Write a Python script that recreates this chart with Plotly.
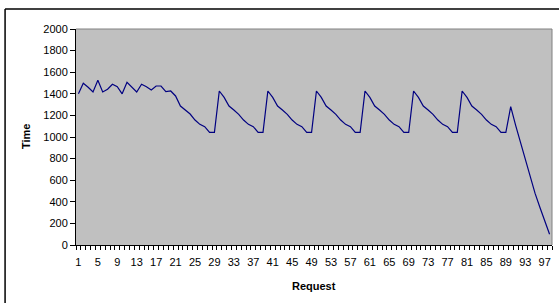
import plotly.graph_objects as go

requests = list(range(1, 99))

warmup = [1400, 1497, 1460, 1417, 1525, 1417, 1442, 1488, 1466, 1400,
          1506, 1460, 1417, 1488, 1466, 1435, 1472, 1472, 1420, 1426,
          1380, 1287, 1250, 1213, 1157, 1117, 1096, 1043, 1043]
cycle = [1426, 1367, 1287, 1250, 1210, 1157, 1117, 1096, 1043, 1043]
tail = [1281, 1110, 950, 790, 630, 480, 350, 220, 100]
times = warmup + cycle * 6 + tail

x_tick_vals = list(range(1, 99, 4))
x_tick_text = [str(v) for v in x_tick_vals]
y_tick_vals = list(range(0, 2001, 200))

FONT = "Arial, Liberation Sans, sans-serif"

fig = go.Figure()
fig.add_trace(go.Scatter(
    x=requests, y=times, mode="lines",
    line=dict(color="#000080", width=1.2),
    hoverinfo="skip", showlegend=False,
))

fig.update_layout(
    width=559, height=303,
    margin=dict(l=76, r=7, t=29, b=58),
    paper_bgcolor="white",
    plot_bgcolor="#C0C0C0",
    font=dict(family=FONT, size=11, color="black"),
    xaxis=dict(
        range=[0.5, 98.5], tickmode="array", tickvals=x_tick_vals,
        ticktext=x_tick_text, ticks="", showgrid=False, zeroline=False,
        showline=True, linecolor="black", linewidth=1,
        tickfont=dict(size=11, family=FONT), ticklabelstandoff=7,
        minor=dict(tickmode="linear", tick0=0.5, dtick=1, ticks="outside",
                   ticklen=4, tickcolor="black", tickwidth=1, showgrid=False),
    ),
    yaxis=dict(
        range=[0, 2000], tickmode="array", tickvals=y_tick_vals,
        ticks="outside", ticklen=5, tickcolor="black", showgrid=False,
        zeroline=False, showline=True, linecolor="black", linewidth=1,
        tickfont=dict(size=11, family=FONT),
    ),
    shapes=[
        # plot-area border (top and right)
        dict(type="line", xref="paper", yref="paper", x0=0, x1=1, y0=1, y1=1,
             line=dict(color="#808080", width=1)),
        dict(type="line", xref="paper", yref="paper", x0=1, x1=1, y0=0, y1=1,
             line=dict(color="#808080", width=1)),
        # outer chart frame (left and top)
        dict(type="line", xref="paper", yref="paper", x0=-0.149, x1=-0.149,
             y0=-0.3, y1=1.0926, line=dict(color="black", width=1.5)),
        dict(type="line", xref="paper", yref="paper", x0=-0.149, x1=1.05,
             y0=1.0926, y1=1.0926, line=dict(color="black", width=1.5)),
    ],
    annotations=[
        dict(text="<b>Request</b>", xref="paper", yref="paper", x=0.5,
             y=(245 - 286) / 216, showarrow=False,
             font=dict(size=11, family=FONT), xanchor="center", yanchor="middle"),
        dict(text="<b>Time</b>", xref="paper", yref="paper",
             x=(26 - 76) / 476, y=0.5, textangle=-90, showarrow=False,
             font=dict(size=11, family=FONT), xanchor="center", yanchor="middle"),
    ],
)

fig.write_html(
    "out.html",
    config={"displayModeBar": False},
    post_script="document.body.style.margin='0';document.body.style.overflow='hidden';",
)
